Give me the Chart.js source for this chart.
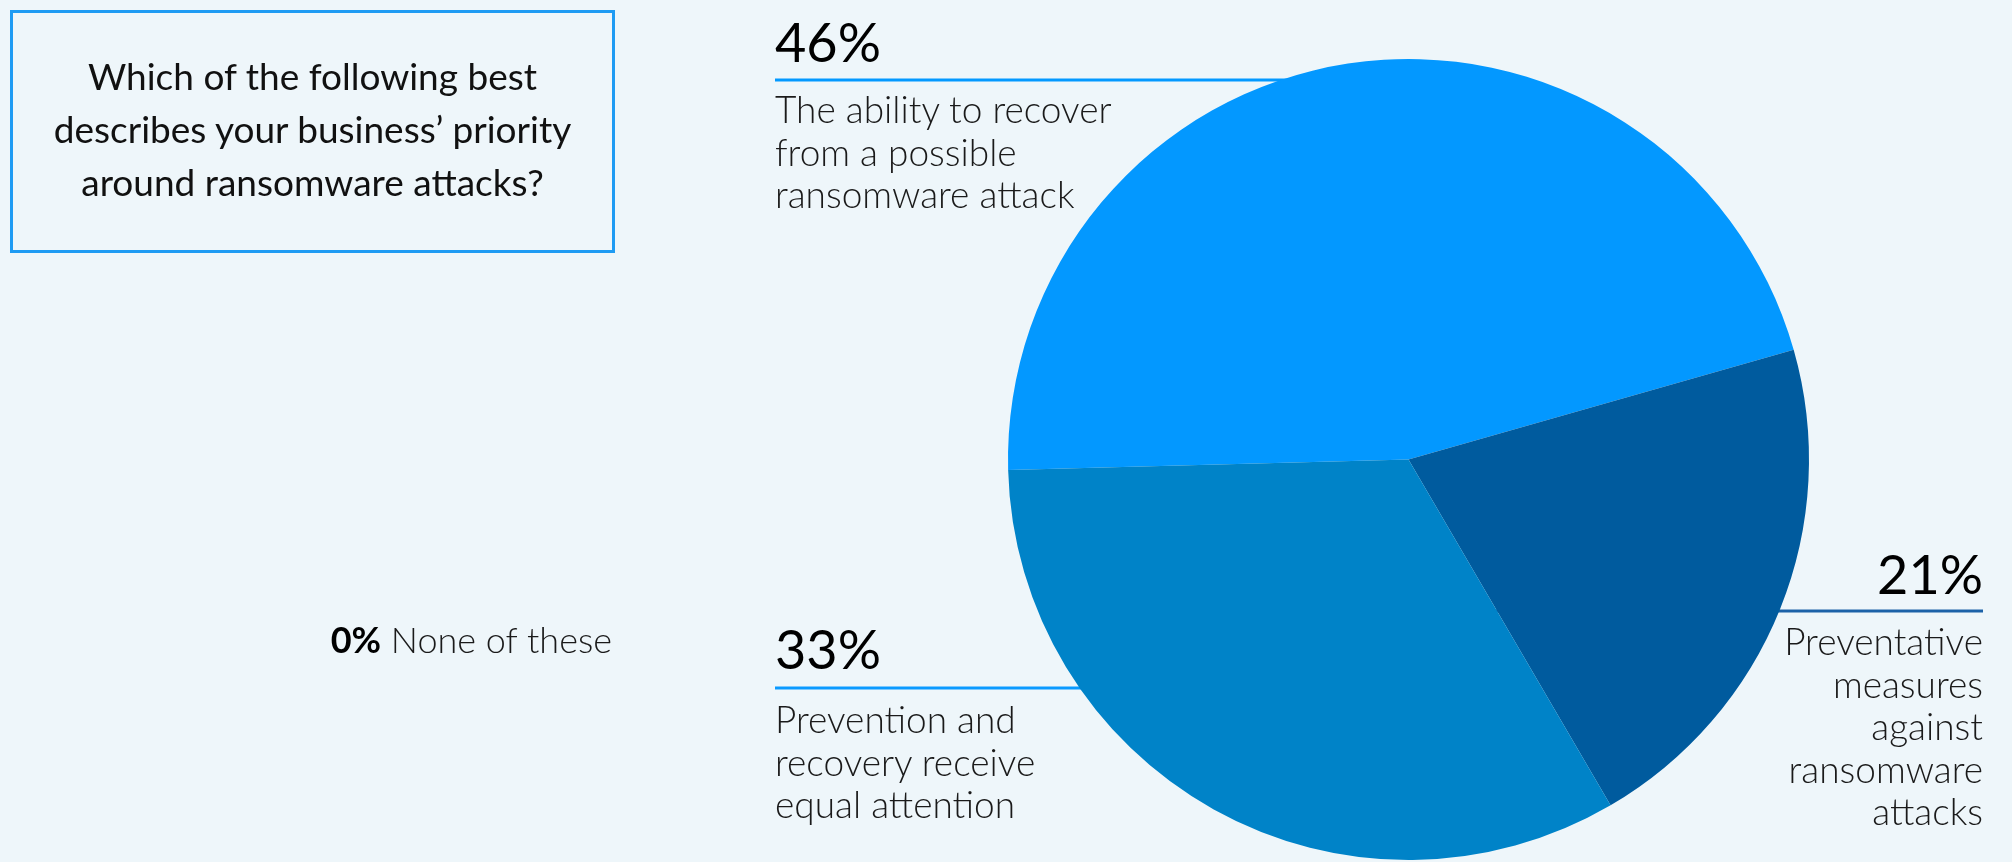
<!DOCTYPE html>
<html>
<head>
<meta charset="utf-8">
<script src="https://cdn.jsdelivr.net/npm/chart.js@4/dist/chart.umd.min.js"></script>
<style>
	html, body { margin: 0; padding: 0; background: #eef6fa; }
	#wrap { position: relative; width: 2012px; height: 862px; overflow: hidden; font-family: Lato, "Open Sans", sans-serif; color: #111; }
	#chart { position: absolute; left: 0; top: 0; }
	.box { position: absolute; left: 10px; top: 10px; width: 605px; height: 243px; box-sizing: border-box;
		border: 3px solid #1e9bf3; display: flex; align-items: center; justify-content: center;
		text-align: center; font-size: 37px; line-height: 53px; font-weight: 400; padding-bottom: 6px; }
	.lbl { position: absolute; }
	.pct { font-size: 54px; line-height: 65px; font-weight: 400; color: #000; }
	.desc { font-size: 37px; line-height: 42.5px; font-weight: 300; color: #1a1a1a; }
	.right { text-align: right; }
	.none { position: absolute; font-size: 36px; line-height: 41px; font-weight: 300; color: #1a1a1a; text-align: right; }
	.none b { font-weight: 700; color: #000; }
</style>
</head>
<body>
<div id="wrap">
	<canvas id="chart" width="2012" height="862"></canvas>
	<div class="box" id="title"></div>
</div>
<script>
// survey answers, share of respondents in %
const question = ["Which of the following best", "describes your business\u2019 priority", "around ransomware attacks?"];
const categories = [
	"The ability to recover from a possible ransomware attack",
	"Preventative measures against ransomware attacks",
	"Prevention and recovery receive equal attention",
	"None of these"
];
const values = [46, 21, 33, 0];
const colors = ["#0398ff", "#005b9e", "#0083c8", "#cccccc"];

// how each label is broken into lines in the graphic
const labelLines = [
	["The ability to recover", "from a possible", "ransomware attack"],
	["Preventative", "measures", "against", "ransomware", "attacks"],
	["Prevention and", "recovery receive", "equal attention"],
	["None of these"]
];

// where the callouts sit (page pixels)
const callouts = [
	{ x: 775, top: 9, gap: 14, lineY: 80, align: "left", lineColor: "#0399ff" },
	{ x: 1983, top: 541, gap: 14, lineY: 611, align: "right", lineColor: "#1c62a8" },
	{ x: 775, top: 616, gap: 17, lineY: 688, align: "left", lineColor: "#0a9aff" }
];

let wrap = document.getElementById("wrap");
document.getElementById("title").innerHTML = question.join("<br>");

callouts.forEach((c, i) => {
	let d = document.createElement("div");
	d.className = "lbl" + (c.align == "right" ? " right" : "");
	d.style.top = c.top + "px";
	if (c.align == "right") d.style.right = (2012 - c.x) + "px";
	else d.style.left = c.x + "px";
	d.innerHTML = '<div class="pct">' + values[i] + '%</div>' +
		'<div class="desc" style="margin-top:' + c.gap + 'px">' + labelLines[i].join("<br>") + '</div>';
	wrap.appendChild(d);
});

// the empty answer is listed on the side
let n = document.createElement("div");
n.className = "none";
n.style.right = (2012 - 612) + "px";
n.style.top = "619px";
n.innerHTML = "<b>" + values[3] + "%</b> " + labelLines[3][0];
wrap.appendChild(n);

// leader lines under the percentages, drawn behind the pie
const leaderLines = {
	id: "leaderLines",
	beforeDatasetsDraw(chart) {
		let ctx = chart.ctx;
		let arc = chart.getDatasetMeta(0).data[0];
		ctx.save();
		ctx.lineWidth = 3;
		callouts.forEach(c => {
			ctx.strokeStyle = c.lineColor;
			ctx.beginPath();
			ctx.moveTo(c.x, c.lineY);
			ctx.lineTo(arc.x, c.lineY);
			ctx.stroke();
		});
		ctx.restore();
	}
};

let ctx = document.getElementById("chart").getContext("2d");
let pie = new Chart(ctx, {
	type: "pie",
	data: {
		labels: categories,
		datasets: [{
			data: values,
			backgroundColor: colors,
			borderWidth: 0,
			hoverOffset: 0
		}]
	},
	options: {
		responsive: false,
		animation: false,
		rotation: 268.5,
		layout: { padding: { left: 1008, right: 203, top: 59, bottom: 2 } },
		plugins: { legend: { display: false }, tooltip: { enabled: false } }
	},
	plugins: [leaderLines]
});
</script>
</body>
</html>
